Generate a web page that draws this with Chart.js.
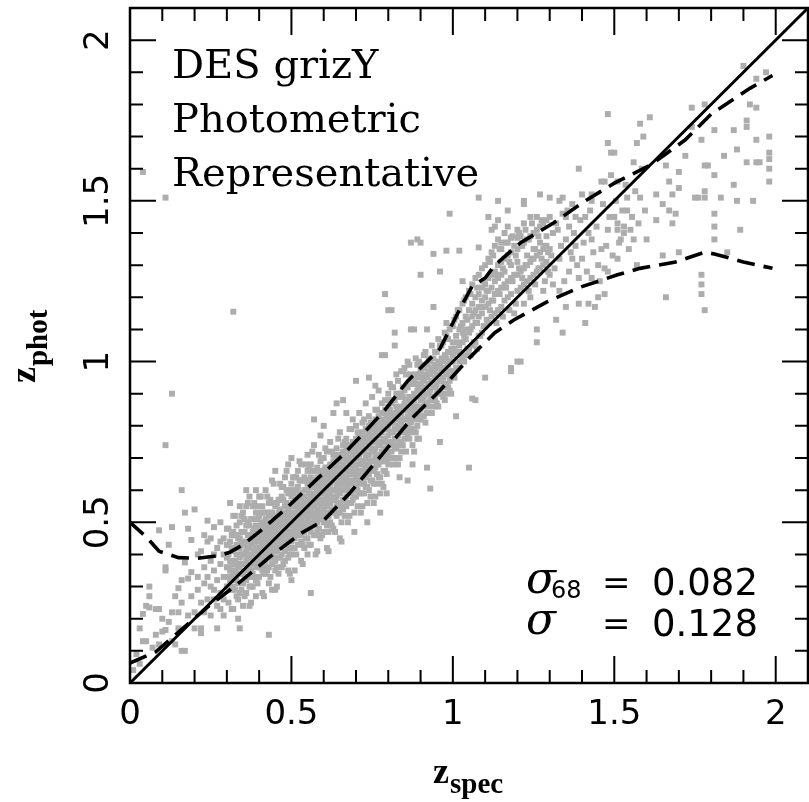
<!DOCTYPE html>
<html>
<head>
<meta charset="utf-8">
<title>DES grizY photometric redshifts</title>
<script src="https://cdn.jsdelivr.net/npm/chart.js@4.4.1/dist/chart.umd.min.js"></script>
<style>
  html, body { margin: 0; padding: 0; background: #fff; }
  #wrap { width: 809px; height: 802px; }
</style>
</head>
<body>
<div id="wrap"><canvas id="zChart" width="809" height="802"></canvas></div>
<script>
// [z_spec, z_phot], sparse low-z part
const lowZ = [
  [0.01,0.04],[0.02,0.09],[0.03,0.06],[0.03,0.17],[0.04,0.13],[0.04,0.215],[0.04,1.59],
  [0.05,0.24],[0.05,0.13],[0.06,0.27],[0.06,0.235],[0.06,0.30],[0.07,0.11],[0.08,0.15],
  [0.08,0.23],[0.09,0.475],[0.09,0.23],[0.09,0.12],
  [0.10,0.20],[0.10,0.16],[0.11,1.51],[0.11,0.35],[0.11,0.36],[0.11,0.165],[0.11,0.74],
  [0.12,0.43],[0.12,0.19],[0.13,0.485],[0.13,0.13],[0.13,0.90],[0.13,0.22],[0.14,0.12],
  [0.14,0.27],[0.15,0.295],[0.15,0.22],[0.15,0.17],[0.16,0.60],[0.16,0.25],[0.16,0.32],
  [0.16,0.10],[0.17,0.53],[0.17,0.375],[0.17,0.10],[0.18,0.325],[0.18,0.48],[0.18,0.21],
  [0.19,0.345],[0.19,0.445],[0.19,0.27],
  [0.20,0.54],[0.20,0.17],[0.20,0.22],[0.21,0.40],[0.21,0.29],[0.21,0.33],[0.22,0.17],
  [0.22,0.155],[0.22,0.41],[0.22,0.25],[0.23,0.31],[0.23,0.36],[0.23,0.46],[0.23,0.22],
  [0.24,0.505],[0.24,0.33],[0.24,0.26],[0.24,0.44],[0.25,0.38],[0.25,0.21],[0.25,0.30],
  [0.25,0.45],[0.26,0.26],[0.26,0.485],[0.26,0.29],[0.26,0.35],[0.26,0.40],[0.27,0.17],
  [0.27,0.42],[0.27,0.32],[0.27,0.24],[0.28,0.23],[0.28,0.50],[0.28,0.37],[0.28,0.28],
  [0.28,0.44],[0.29,0.45],[0.29,0.33],[0.29,0.40],[0.29,0.26],[0.29,0.21]
];

// dense part, one column per z_spec: [z_spec, z_phot, z_phot, ...]
const coreColumns = [
  [0.30, 0.39,0.36,0.43,0.30,0.48],
  [0.31, 0.56,0.32,0.29,0.38,0.44,0.35],
  [0.32, 0.41,0.34,0.47,0.30,0.52,0.37,0.23,1.155],
  [0.33, 0.37,0.43,0.33,0.49,0.27,0.40,0.46],
  [0.34, 0.17,0.28,0.50,0.36,0.42,0.39,0.45,0.55],
  [0.35, 0.34,0.31,0.47,0.40,0.53,0.37,0.43,0.24],
  [0.36, 0.55,0.28,0.44,0.35,0.41,0.38,0.49,0.32,0.60],
  [0.37, 0.33,0.46,0.39,0.42,0.36,0.58,0.30,0.49,0.24],
  [0.38, 0.44,0.40,0.37,0.51,0.34,0.47,0.55,0.30],
  [0.39, 0.27,0.42,0.39,0.45,0.36,0.49,0.32,0.53,0.60],
  [0.40, 0.38,0.42,0.45,0.40,0.36,0.48,0.52,0.33,0.44,0.58,0.41],
  [0.41, 0.39,0.43,0.28,0.46,0.41,0.50,0.37,0.44,0.55,0.35,0.47],
  [0.42, 0.40,0.44,0.47,0.38,0.42,0.51,0.34,0.45,0.60,0.36,0.49],
  [0.43, 0.15,0.41,0.45,0.48,0.39,0.43,0.52,0.36,0.46,0.56,0.31],
  [0.44, 0.29,0.42,0.46,0.44,0.49,0.40,0.53,0.37,0.47,0.63,0.43],
  [0.45, 0.29,0.43,0.47,0.45,0.50,0.41,0.55,0.38,0.48,0.35,0.66],
  [0.46, 0.44,0.48,0.46,0.51,0.42,0.39,0.57,0.49,0.34,0.45,0.53],
  [0.47, 0.45,0.49,0.47,0.52,0.43,0.40,0.58,0.50,0.36,0.61,0.46],
  [0.48, 0.46,0.50,0.48,0.53,0.44,0.41,0.55,0.51,0.38,0.64,0.47],
  [0.49, 0.35,0.47,0.51,0.49,0.54,0.45,0.42,0.59,0.52,0.39,0.68],
  [0.50, 0.32,0.47,0.51,0.49,0.55,0.44,0.58,0.53,0.40,0.62,0.70],
  [0.51, 0.48,0.53,0.50,0.57,0.45,0.60,0.42,0.46,0.64,0.35,0.55],
  [0.52, 0.49,0.52,0.56,0.47,0.61,0.54,0.43,0.66,0.50,0.58],
  [0.53, 0.51,0.55,0.48,0.59,0.44,0.53,0.38,0.63,0.68,0.57,0.46],
  [0.54, 0.50,0.56,0.52,0.60,0.47,0.64,0.42,0.54,0.58,0.49],
  [0.55, 0.53,0.57,0.51,0.62,0.48,0.45,0.55,0.71,0.40,0.60,0.66],
  [0.56, 0.28,0.54,0.58,0.50,0.61,0.47,0.56,0.64,0.52,0.43,0.68],
  [0.57, 0.55,0.59,0.53,0.63,0.49,0.57,0.74,0.61,0.46,0.51,0.82],
  [0.58, 0.41,0.56,0.60,0.54,0.64,0.50,0.58,0.67,0.62,0.47,0.52],
  [0.59, 0.57,0.61,0.55,0.65,0.51,0.59,0.45,0.77,0.63,0.53,0.69],
  [0.60, 0.57,0.62,0.54,0.66,0.50,0.59,0.70,0.47,0.64,0.60,0.80],
  [0.61, 0.42,0.58,0.63,0.55,0.67,0.52,0.61,0.72,0.65,0.49,0.59],
  [0.62, 0.59,0.64,0.56,0.68,0.53,0.62,0.75,0.66,0.50,0.60],
  [0.63, 0.60,0.65,0.57,0.69,0.54,0.63,0.48,0.71,0.67,0.84,0.58],
  [0.64, 0.61,0.66,0.58,0.70,0.55,0.64,0.73,0.52,0.68,0.62,0.87],
  [0.65, 0.62,0.67,0.59,0.71,0.56,0.65,0.78,0.53,0.69,0.63,0.45],
  [0.66, 0.63,0.68,0.60,0.72,0.57,0.66,0.74,0.54,0.70,0.64,0.88],
  [0.67, 0.64,0.69,0.61,0.73,0.58,0.67,0.55,0.76,0.71,0.62,0.84],
  [0.68, 0.59,0.65,0.70,0.62,0.74,0.56,0.68,0.79,0.72,0.66,0.52],
  [0.69, 0.66,0.71,0.63,0.75,0.60,0.69,0.57,0.82,0.73,0.67],
  [0.70, 0.67,0.72,0.64,0.76,0.61,0.70,0.58,0.80,0.74,0.94],
  [0.71, 0.68,0.73,0.65,0.77,0.62,0.71,0.84,0.59,0.75],
  [0.72, 0.69,0.74,0.66,0.78,0.63,0.72,0.55,0.81,0.76],
  [0.73, 0.70,0.75,0.67,0.79,0.64,0.73,0.87,0.61,0.77],
  [0.74, 0.71,0.76,0.68,0.80,0.65,0.74,0.60,0.83,0.78,0.95],
  [0.75, 0.72,0.77,0.69,0.81,0.66,0.75,0.89,0.63,0.79],
  [0.76, 0.73,0.78,0.70,0.82,0.67,0.76,0.58,0.85,0.80,0.925],
  [0.77, 0.74,0.79,0.71,0.83,0.68,0.77,0.91,0.64,0.81],
  [0.78, 0.75,0.80,0.72,0.84,0.69,0.78,0.62,0.87,0.82,1.02],
  [0.79, 0.76,0.81,0.73,0.85,0.70,0.79,1.21,0.66,0.88,1.02],
  [0.80, 0.77,0.82,0.74,0.86,0.71,0.80,0.90,0.68,0.84,1.16],
  [0.81, 0.78,0.83,0.75,0.87,0.72,0.81,1.16,0.92],
  [0.82, 0.79,0.84,0.76,0.88,0.73,0.82,1.09,1.05,0.70],
  [0.83, 0.80,0.85,0.77,0.89,0.74,0.68,0.94,0.83],
  [0.84, 0.81,0.86,0.78,0.90,0.75,0.84,0.97,0.72],
  [0.85, 0.82,0.87,0.79,0.91,0.76,0.85,0.98],
  [0.86, 0.83,0.88,0.80,0.92,0.63,0.86,0.77,1.00],
  [0.87, 0.84,0.89,0.81,0.93,0.78,0.87,1.37,0.96,1.10],
  [0.88, 0.85,0.90,0.82,0.94,0.72,0.88,1.10,0.79],
  [0.89, 0.86,0.91,0.83,0.95,0.80,0.89,1.38,0.99,0.76],
  [0.90, 0.88,0.93,0.85,0.97,1.27,0.90,0.82,1.37],
  [0.91, 0.89,0.94,0.86,0.98,0.83,1.02],
  [0.92, 0.67,0.90,0.95,0.87,1.10,0.99,0.84],
  [0.93, 0.605,0.91,0.96,0.88,1.00,0.93],
  [0.94, 0.92,0.97,0.89,1.17,1.01,0.86,1.335],
  [0.95, 0.93,0.98,0.90,1.03,0.87,0.96],
  [0.96, 0.75,0.94,0.99,1.28,0.91,1.05],
  [0.97, 0.95,1.00,0.92,1.06,0.89,0.98],
  [0.98, 0.96,1.01,0.93,1.08,0.90,1.12,1.345],
  [0.99, 0.97,1.03,0.94,1.10,0.91,1.00,1.46],
  [1.00, 1.02,1.06,0.97,1.11,1.00],
  [1.01, 0.83,1.03,1.08,0.98,1.14],
  [1.02, 1.05,1.10,1.00,1.16,1.03,1.345],
  [1.03, 1.06,1.12,1.01,1.18,1.09,1.25],
  [1.04, 1.07,1.14,1.02,1.20,1.10],
  [1.05, 0.67,1.09,1.16,1.04,1.22],
  [1.06, 0.885,1.11,1.18,1.05,1.24,1.14],
  [1.07, 1.12,1.20,1.06,1.26,1.16,0.88],
  [1.08, 1.51,1.14,1.21,1.08,1.27,1.17,1.355],
  [1.09, 1.15,1.23,1.09,1.29,1.19],
  [1.10, 0.95,1.17,1.24,1.11,1.30,1.20],
  [1.11, 1.18,1.26,1.12,1.32,1.22,1.45],
  [1.12, 1.19,1.27,1.14,1.34,1.23,1.41],
  [1.13, 1.21,1.28,1.15,1.36,1.25,1.42],
  [1.14, 1.22,1.30,1.16,1.38,1.26,1.44,1.50],
  [1.15, 1.23,1.31,1.17,1.35,1.27,1.37],
  [1.16, 1.24,1.32,1.19,1.40,1.28],
  [1.17, 1.25,1.33,1.20,1.37,1.47,1.42],
  [1.18, 0.98,0.97,1.26,1.34,1.21,1.30,1.385],
  [1.19, 1.27,1.15,1.36],
  [1.20, 1.00,1.27,1.35,1.22,1.41,1.31,1.385],
  [1.21, 1.00,1.28,1.36,1.23,1.39],
  [1.22, 1.29,1.37,1.24,1.43,1.18,1.49,1.50],
  [1.23, 1.30,1.38,1.25,1.33],
  [1.24, 1.31,1.39,1.26,1.45,1.20],
  [1.25, 1.32,1.40,1.27,1.35],
  [1.26, 1.06,1.10,1.33,1.41,1.28,1.45],
  [1.27, 1.52,1.34,1.42,1.29,1.37],
  [1.28, 1.35,1.43,1.30,1.22],
  [1.29, 1.36,1.44,1.31,1.39]
];

// more of the dense part, between the columns above
const coreColumnsB = [
  [0.305, 0.25,0.30,0.33,0.36,0.40,0.43,0.48],
  [0.315, 0.23,0.29,0.33,0.35,0.38,0.42,0.46],
  [0.325, 0.29,0.32,0.35,0.38,0.42,0.46,0.52],
  [0.335, 0.26,0.31,0.36,0.34,0.45,0.37,0.20],
  [0.345, 0.29,0.34,0.37,0.40,0.44,0.47,0.52],
  [0.355, 0.27,0.33,0.37,0.40,0.43,0.47,0.51],
  [0.365, 0.33,0.36,0.39,0.42,0.46,0.50,0.56],
  [0.375, 0.30,0.35,0.45,0.40,0.51,0.43,0.25],
  [0.385, 0.33,0.38,0.41,0.44,0.48,0.51,0.56],
  [0.395, 0.31,0.37,0.41,0.44,0.47,0.51,0.55],
  [0.405, 0.36,0.39,0.42,0.45,0.49,0.53,0.58],
  [0.415, 0.34,0.38,0.48,0.43,0.53,0.45,0.27],
  [0.425, 0.35,0.40,0.43,0.46,0.50,0.53,0.58],
  [0.435, 0.33,0.39,0.43,0.46,0.49,0.53,0.57],
  [0.445, 0.39,0.42,0.45,0.48,0.52,0.56,0.62],
  [0.455, 0.36,0.41,0.51,0.46,0.56,0.48,0.30],
  [0.465, 0.39,0.44,0.47,0.50,0.54,0.57,0.62],
  [0.475, 0.37,0.43,0.47,0.50,0.53,0.57,0.61],
  [0.485, 0.43,0.46,0.49,0.52,0.56,0.60,0.66],
  [0.495, 0.40,0.45,0.55,0.50,0.60,0.52,0.34],
  [0.505, 0.42,0.46,0.49,0.52,0.56,0.59,0.64],
  [0.515, 0.40,0.46,0.50,0.53,0.56,0.60,0.64],
  [0.525, 0.46,0.49,0.52,0.55,0.59,0.63,0.69],
  [0.535, 0.43,0.48,0.58,0.53,0.63,0.55,0.37],
  [0.545, 0.45,0.50,0.53,0.56,0.60,0.63,0.68],
  [0.555, 0.43,0.49,0.53,0.56,0.59,0.63,0.67],
  [0.565, 0.49,0.52,0.55,0.58,0.62,0.66,0.72],
  [0.575, 0.46,0.51,0.61,0.56,0.66,0.58,0.40],
  [0.585, 0.48,0.53,0.56,0.59,0.63,0.66,0.71],
  [0.595, 0.46,0.52,0.56,0.59,0.62,0.66,0.70],
  [0.605, 0.50,0.53,0.56,0.59,0.63,0.67,0.73],
  [0.615, 0.47,0.52,0.62,0.57,0.67,0.59,0.41],
  [0.625, 0.49,0.54,0.57,0.60,0.64,0.67,0.72],
  [0.635, 0.47,0.53,0.57,0.60,0.63,0.67,0.71],
  [0.645, 0.53,0.56,0.59,0.62,0.66,0.70,0.76],
  [0.655, 0.50,0.55,0.65,0.60,0.70,0.62,0.44],
  [0.665, 0.52,0.57,0.60,0.63,0.67,0.70,0.75],
  [0.675, 0.50,0.56,0.60,0.63,0.66,0.70,0.74],
  [0.685, 0.56,0.59,0.62,0.65,0.69,0.73,0.79],
  [0.695, 0.53,0.58,0.68,0.63,0.73,0.65,0.47],
  [0.705, 0.55,0.60,0.63,0.66,0.70,0.73,0.78],
  [0.715, 0.53,0.59,0.63,0.66,0.69,0.73,0.77],
  [0.725, 0.59,0.62,0.65,0.68,0.72,0.76,0.82],
  [0.735, 0.56,0.61,0.71,0.66,0.76,0.68,0.50],
  [0.745, 0.58,0.63,0.66,0.69,0.73,0.76,0.81],
  [0.755, 0.56,0.62,0.66,0.69,0.72,0.76,0.80],
  [0.765, 0.62,0.65,0.68,0.71,0.75,0.79,0.85],
  [0.775, 0.59,0.64,0.74,0.69,0.79,0.71,0.53],
  [0.785, 0.61,0.66,0.69,0.72,0.76,0.79,0.84],
  [0.795, 0.59,0.65,0.69,0.72,0.75,0.79,0.83],
  [0.805, 0.70,0.75,0.78,0.81,0.85,0.88,0.93],
  [0.815, 0.68,0.74,0.78,0.81,0.84,0.88,0.92],
  [0.825, 0.73,0.76,0.79,0.82,0.86,0.90,0.96],
  [0.835, 0.70,0.75,0.85,0.80,0.90,0.82,0.64],
  [0.845, 0.74,0.79,0.82,0.85,0.89,0.92,0.97],
  [0.855, 0.72,0.78,0.82,0.85,0.88,0.92,0.96],
  [0.865, 0.76,0.79,0.82,0.85,0.89,0.93,0.99],
  [0.875, 0.74,0.79,0.89,0.84,0.94,0.86,0.68],
  [0.885, 0.78,0.83,0.86,0.89,0.93,0.96,1.01],
  [0.895, 0.76,0.82,0.86,0.89,0.92,0.96,1.00],
  [0.905, 0.83,0.88,0.91,0.95,0.99],
  [0.915, 0.81,0.87,0.92,0.96,1.03],
  [0.925, 0.86,0.90,0.93,0.97,1.01],
  [0.935, 0.84,0.89,0.94,0.98,1.05],
  [0.945, 0.88,0.92,0.95,0.99,1.03],
  [0.955, 0.86,0.91,0.96,1.00,1.07],
  [0.965, 0.90,0.94,0.97,1.01,1.05],
  [0.975, 0.88,0.93,0.98,1.02,1.09],
  [0.985, 0.92,0.96,0.99,1.03,1.07],
  [0.995, 0.90,0.95,1.00,1.04,1.11],
  [1.005, 0.95,1.04,1.13],
  [1.015, 0.98,1.06,1.16],
  [1.025, 1.02,1.11],
  [1.035, 1.00,1.08,1.19],
  [1.045, 1.04,1.13],
  [1.055, 1.02,1.10,1.21],
  [1.065, 1.06,1.15],
  [1.075, 1.04,1.12,1.23],
  [1.085, 1.08,1.17],
  [1.095, 1.11,1.25],
  [1.105, 1.13,1.22],
  [1.115, 1.16,1.31],
  [1.125, 1.19,1.33],
  [1.135, 1.12,1.27],
  [1.145, 1.21,1.35],
  [1.155, 1.14,1.29],
  [1.165, 1.23,1.37],
  [1.175, 1.16,1.31],
  [1.185, 1.25,1.39],
  [1.195, 1.18,1.33],
  [1.205, 1.29,1.40],
  [1.215, 1.26,1.36],
  [1.225, 1.30,1.41],
  [1.235, 1.22,1.38],
  [1.245, 1.32,1.43],
  [1.255, 1.24,1.35],
  [1.265, 1.29,1.39],
  [1.275, 1.32,1.44],
  [1.285, 1.25,1.36],
  [1.295, 1.34,1.28]
];

// sparse high-z part
const highZ = [
  [1.30,1.51],[1.30,1.45],[1.30,1.35],[1.30,1.27],[1.31,1.40],[1.31,1.24],[1.32,1.43],
  [1.32,1.13],[1.33,1.32],[1.33,1.22],[1.33,1.50],[1.34,1.51],[1.34,1.46],[1.34,1.09],
  [1.35,1.38],[1.35,1.17],[1.35,1.45],[1.36,1.28],[1.36,1.42],[1.37,1.49],[1.37,1.32],
  [1.38,1.36],[1.38,1.45],[1.39,1.60],[1.39,1.26],[1.39,1.18],
  [1.305,1.33],[1.315,1.29],[1.325,1.41],[1.335,1.36],[1.345,1.25],[1.355,1.47],
  [1.365,1.34],[1.375,1.40],[1.385,1.30],[1.395,1.44],
  [1.40,1.52],[1.40,1.32],[1.41,1.45],[1.41,1.12],[1.42,1.18],[1.42,1.40],[1.43,1.50],
  [1.43,1.38],[1.43,1.26],[1.43,1.52],[1.44,1.17],[1.45,1.30],[1.45,1.20],[1.46,1.56],
  [1.46,1.35],[1.47,1.29],[1.47,1.56],[1.47,1.21],[1.48,1.68],[1.48,1.41],[1.48,1.28],
  [1.48,1.77],[1.49,1.58],[1.49,1.65],
  [1.405,1.37],[1.415,1.28],[1.425,1.47],[1.435,1.34],[1.445,1.42],[1.455,1.25],
  [1.465,1.49],[1.475,1.36],[1.485,1.45],[1.495,1.33],
  [1.50,1.65],[1.50,1.45],[1.51,1.56],[1.51,1.41],[1.51,1.43],[1.51,1.32],[1.52,1.38],
  [1.53,1.42],[1.53,1.40],[1.54,1.51],[1.54,1.47],[1.55,1.41],[1.56,1.62],[1.56,1.38],
  [1.57,1.68],[1.57,1.30],[1.58,1.51],[1.58,1.74],[1.59,1.70],
  [1.505,1.50],[1.515,1.37],[1.525,1.47],[1.535,1.55],[1.545,1.35],[1.555,1.45],
  [1.565,1.53],[1.575,1.43],[1.585,1.60],[1.595,1.47],
  [1.60,1.38],[1.61,1.76],[1.63,1.44],[1.63,1.52],[1.65,1.49],[1.65,1.33],[1.66,1.61],
  [1.66,1.20],[1.67,1.56],[1.67,1.47],[1.68,1.52],[1.68,1.43],[1.69,1.46],[1.70,1.59],
  [1.70,1.54],[1.70,1.34],
  [1.72,1.64],[1.74,1.73],[1.74,1.79],[1.75,1.51],[1.76,1.51],[1.77,1.69],[1.77,1.27],
  [1.77,1.24],[1.77,1.21],[1.78,1.16],[1.78,1.53],[1.78,1.61],[1.78,1.51],[1.78,1.80],
  [1.79,1.61],
  [1.81,1.72],[1.81,1.58],[1.81,1.46],[1.81,1.42],[1.81,1.38],[1.83,1.51],[1.84,1.64],
  [1.85,1.34],[1.87,1.55],[1.87,1.72],[1.88,1.50],[1.88,1.66],[1.89,1.41],[1.90,1.92],
  [1.91,1.75],[1.91,1.73],[1.91,1.62],[1.92,1.80],[1.93,1.50],[1.94,1.88],[1.94,1.79],
  [1.94,1.69],[1.94,1.62],[1.95,1.62],[1.97,1.90],[1.98,1.70],[1.98,1.65],[1.98,1.63],
  [1.98,1.60],[1.98,1.56]
];

// z_phot = z_spec
const diagX = [0, 2.1];
const diagY = [0, 2.1];

// dashed bounds
const upperX = [0, 0.05, 0.09, 0.15, 0.21, 0.28, 0.31, 0.35, 0.40, 0.48, 0.58, 0.66, 0.74, 0.79,
  0.86, 0.96, 0.99, 1.02, 1.06, 1.10, 1.13, 1.21, 1.31, 1.41, 1.50, 1.61, 1.72, 1.80, 1.92, 1.99];
const upperY = [0.50, 0.455, 0.41, 0.39, 0.388, 0.397, 0.407, 0.43, 0.47, 0.54, 0.635, 0.71, 0.795, 0.85,
  0.94, 1.04, 1.10, 1.16, 1.235, 1.26, 1.30, 1.37, 1.43, 1.50, 1.555, 1.61, 1.69, 1.77, 1.85, 1.89];
const lowerX = [0, 0.08, 0.24, 0.31, 0.36, 0.43, 0.53, 0.60, 0.68, 0.78, 0.87, 0.96, 1.05, 1.13,
  1.19, 1.29, 1.39, 1.51, 1.58, 1.69, 1.78, 1.81, 1.90, 1.99];
const lowerY = [0.062, 0.097, 0.236, 0.29, 0.33, 0.39, 0.466, 0.506, 0.59, 0.71, 0.82, 0.91, 1.01, 1.09,
  1.13, 1.185, 1.23, 1.27, 1.29, 1.31, 1.34, 1.335, 1.31, 1.29];

const majorTicks = [0, 0.5, 1, 1.5, 2];
const infoLines = ['DES grizY', 'Photometric', 'Representative'];
const sigma68 = '0.082';
const sigmaAll = '0.128';

const toXY = (xs, ys) => xs.map((v, i) => ({ x: v, y: ys[i] }));

let galaxyPts = lowZ.map(p => ({ x: p[0], y: p[1] }));
coreColumns.concat(coreColumnsB).forEach(col => {
  for (let i = 1; i < col.length; i++) galaxyPts.push({ x: col[0], y: col[i] });
});
highZ.forEach(p => galaxyPts.push({ x: p[0], y: p[1] }));

const isMajor = v => majorTicks.some(m => Math.abs(m - v) < 1e-6);

const frameTicks = {
  id: 'frameTicks',
  afterDatasetsDraw(chart) {
    const { ctx, chartArea: a, scales: { x, y } } = chart;
    ctx.save();
    ctx.strokeStyle = '#000';
    ctx.lineWidth = 2;
    ctx.beginPath();
    x.ticks.forEach(t => {
      const px = x.getPixelForValue(t.value);
      const len = isMajor(t.value) ? 27 : 13;
      ctx.moveTo(px, a.bottom); ctx.lineTo(px, a.bottom - len);
      ctx.moveTo(px, a.top); ctx.lineTo(px, a.top + len);
    });
    y.ticks.forEach(t => {
      const py = y.getPixelForValue(t.value);
      const len = isMajor(t.value) ? 26 : 13;
      ctx.moveTo(a.left, py); ctx.lineTo(a.left + len, py);
      ctx.moveTo(a.right, py); ctx.lineTo(a.right - len, py);
    });
    ctx.stroke();
    ctx.lineWidth = 2.5;
    ctx.strokeRect(a.left, a.top, a.right - a.left, a.bottom - a.top);
    ctx.restore();
  },
  afterDraw(chart) {
    const { ctx, scales: { y } } = chart;
    ctx.save();
    ctx.fillStyle = '#000';

    // y tick labels, rotated
    ctx.font = '34px "DejaVu Sans"';
    ctx.textAlign = 'center';
    ctx.textBaseline = 'alphabetic';
    majorTicks.forEach(v => {
      ctx.save();
      ctx.translate(108, y.getPixelForValue(v));
      ctx.rotate(-Math.PI / 2);
      ctx.fillText(String(v), 0, 0);
      ctx.restore();
    });

    ctx.textAlign = 'left';
    // sample description
    ctx.font = '40px "DejaVu Serif"';
    infoLines.forEach((s, i) => ctx.fillText(s, 172, 78 + i * 54));

    // scatter numbers
    ctx.font = 'italic 44px "DejaVu Serif"';
    ctx.fillText('\u03c3', 526, 593);
    ctx.fillText('\u03c3', 526, 634);
    ctx.font = '24px "DejaVu Sans"';
    ctx.fillText('68', 551, 598);
    ctx.font = '34px "DejaVu Sans"';
    ctx.fillText('=', 602, 594);
    ctx.fillText('=', 602, 635);
    ctx.font = '37px "DejaVu Sans"';
    ctx.fillText(sigma68, 652, 595);
    ctx.fillText(sigmaAll, 652, 636);

    // axis titles
    ctx.font = 'bold 36px "Liberation Serif"';
    ctx.fillText('z', 433, 783);
    const zw = ctx.measureText('z').width;
    ctx.font = 'bold 29px "Liberation Serif"';
    ctx.fillText('spec', 433 + zw + 1, 793);

    ctx.translate(35, 383);
    ctx.rotate(-Math.PI / 2);
    ctx.font = 'bold 36px "Liberation Serif"';
    ctx.fillText('z', 0, 0);
    ctx.font = 'bold 29px "Liberation Serif"';
    ctx.fillText('phot', zw + 1, 12);
    ctx.restore();
  }
};

const ctx = document.getElementById('zChart').getContext('2d');
const zChart = new Chart(ctx, {
  type: 'scatter',
  data: {
    datasets: [
      {
        label: 'one to one',
        data: toXY(diagX, diagY),
        showLine: true,
        borderColor: '#000',
        borderWidth: 3,
        pointRadius: 0
      },
      {
        label: 'upper',
        data: toXY(upperX, upperY),
        showLine: true,
        borderColor: '#000',
        borderWidth: 3.6,
        borderDash: [18, 9],
        pointRadius: 0
      },
      {
        label: 'lower',
        data: toXY(lowerX, lowerY),
        showLine: true,
        borderColor: '#000',
        borderWidth: 3.6,
        borderDash: [18, 9],
        pointRadius: 0
      },
      {
        label: 'galaxies',
        data: galaxyPts,
        pointStyle: 'rect',
        pointRadius: 4.2,
        borderWidth: 0,
        backgroundColor: '#adadad'
      }
    ]
  },
  options: {
    responsive: false,
    animation: false,
    events: [],
    layout: { autoPadding: false, padding: { top: 8, right: 1, left: 0, bottom: 0 } },
    plugins: { legend: { display: false }, tooltip: { enabled: false } },
    scales: {
      x: {
        type: 'linear',
        min: 0,
        max: 2.1,
        afterFit: s => { s.height = 119; s.paddingLeft = 0; s.paddingRight = 0; },
        grid: { display: false, drawTicks: false },
        border: { display: false },
        ticks: {
          stepSize: 0.1,
          autoSkip: false,
          maxRotation: 0,
          padding: 12,
          color: '#000',
          font: { family: 'DejaVu Sans', size: 34 },
          callback: v => isMajor(v) ? String(Math.round(v * 10) / 10) : ''
        }
      },
      y: {
        type: 'linear',
        min: 0,
        max: 2.1,
        afterFit: s => { s.width = 130; },
        grid: { display: false, drawTicks: false },
        border: { display: false },
        ticks: { stepSize: 0.1, display: false }
      }
    }
  },
  plugins: [frameTicks]
});
</script>
</body>
</html>
